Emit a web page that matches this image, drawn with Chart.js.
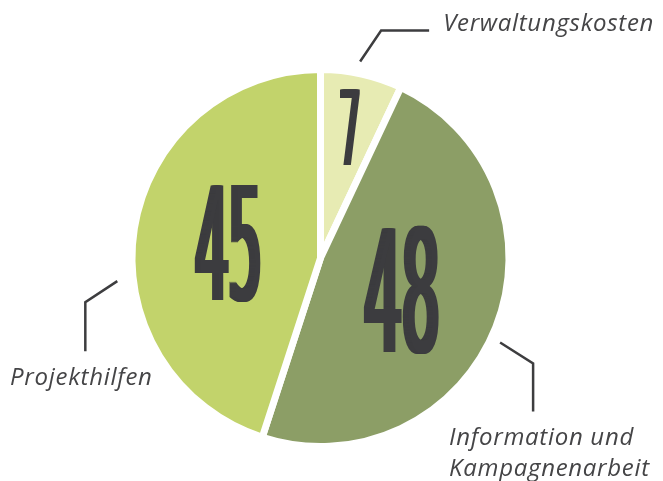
<!DOCTYPE html>
<html>
<head>
<meta charset="utf-8">
<script src="https://cdn.jsdelivr.net/npm/chart.js@4/dist/chart.umd.min.js"></script>
<style>
  html, body { margin: 0; padding: 0; background: #ffffff; }
  #wrap { width: 663px; height: 481px; }
</style>
</head>
<body>
<div id="wrap"><canvas id="c" width="663" height="481"></canvas></div>
<script>
// ---- data ----
const categories = ['Verwaltungskosten', 'Information und Kampagnenarbeit', 'Projekthilfen'];
const values = [7, 48, 45];
const labelLines = [['Verwaltungskosten'], ['Information und', 'Kampagnenarbeit'], ['Projekthilfen']];
const sliceColors = ['#e7ebb3', '#8c9e66', '#c2d36b'];

// ---- styling of annotations (value numbers + leader lines) ----
const numberStyle = [
  { rFrac: 0.71, height: 75, width: 20 },
  { rFrac: 0.46, height: 124, width: 75 },
  { rFrac: 0.50, height: 115, width: 66 }
];
const leaderStyle = [
  { angle: 11.4, gap: 12, segs: [[21, -31], [48, 0]], text: { dx: 14, dy: 1, align: 'left', lh: 31 } },
  { angle: 115.2, gap: 10, segs: [[33, 21], [0, 48]], text: { dx: -84, dy: 33, align: 'left', lh: 31 } },
  { angle: 263.5, gap: 16, segs: [[-32, 21], [0, 49]], text: { dx: -4, dy: 34, align: 'center', lh: 31 } }
];

const annotate = {
  id: 'annotate',
  afterDatasetsDraw(chart) {
    const ctx = chart.ctx;
    const meta = chart.getDatasetMeta(0);
    meta.data.forEach((arc, i) => {
      const p = arc.getProps(['x', 'y', 'startAngle', 'endAngle', 'outerRadius'], true);
      const R = p.outerRadius;
      // value number
      const mid = (p.startAngle + p.endAngle) / 2;
      const ns = numberStyle[i];
      const nx = p.x + Math.cos(mid) * R * ns.rFrac;
      const ny = p.y + Math.sin(mid) * R * ns.rFrac;
      ctx.save();
      const fs = ns.height / 0.73;
      ctx.font = '400 ' + fs + 'px "Liberation Sans Narrow", "DejaVu Sans Condensed", sans-serif';
      const txt = String(values[i]);
      const m = ctx.measureText(txt);
      const inkW = m.actualBoundingBoxLeft + m.actualBoundingBoxRight;
      const inkH = m.actualBoundingBoxAscent + m.actualBoundingBoxDescent;
      const smear = Math.round(ns.height * 0.05);
      const sx = (ns.width - smear) / inkW;
      ctx.fillStyle = '#3c3c3f';
      ctx.textBaseline = 'alphabetic';
      for (let k = 0; k <= smear; k++) {
        ctx.save();
        ctx.translate(nx - ns.width / 2 + k, ny + inkH / 2 - m.actualBoundingBoxDescent);
        ctx.scale(sx, 1);
        ctx.fillText(txt, m.actualBoundingBoxLeft, 0);
        ctx.restore();
      }
      ctx.restore();

      // leader line
      const ls = leaderStyle[i];
      const a = (ls.angle - 90) * Math.PI / 180;
      let lx = p.x + Math.cos(a) * (R + ls.gap);
      let ly = p.y + Math.sin(a) * (R + ls.gap);
      ctx.save();
      ctx.strokeStyle = '#3d3d3f';
      ctx.lineWidth = 2.5;
      ctx.lineJoin = 'miter';
      ctx.beginPath();
      ctx.moveTo(lx, ly);
      ls.segs.forEach(s => { lx += s[0]; ly += s[1]; ctx.lineTo(lx, ly); });
      ctx.stroke();
      // label
      ctx.fillStyle = '#454547';
      ctx.font = 'italic 400 24px "Open Sans", "Noto Sans", sans-serif';
      ctx.letterSpacing = '0.7px';
      ctx.textAlign = ls.text.align;
      ctx.textBaseline = 'alphabetic';
      labelLines[i].forEach((line, j) => {
        ctx.fillText(line, lx + ls.text.dx, ly + ls.text.dy + j * ls.text.lh);
      });
      ctx.restore();
    });
  }
};

new Chart(document.getElementById('c'), {
  type: 'pie',
  data: {
    labels: categories,
    datasets: [{
      data: values,
      backgroundColor: sliceColors,
      borderColor: '#ffffff',
      borderWidth: 7,
      hoverOffset: 0
    }]
  },
  options: {
    responsive: false,
    animation: false,
    radius: 188.5,
    layout: { padding: { left: 0, right: 22, top: 35, bottom: 0 } },
    plugins: {
      legend: { display: false },
      tooltip: { enabled: false }
    }
  },
  plugins: [annotate]
});
</script>
</body>
</html>
